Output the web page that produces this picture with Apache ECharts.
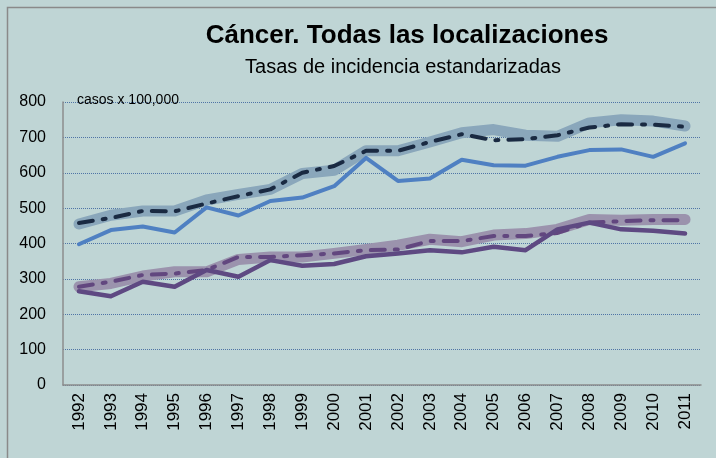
<!DOCTYPE html>
<html>
<head>
<meta charset="utf-8">
<script src="https://cdn.jsdelivr.net/npm/echarts@6/dist/echarts.min.js"></script>
<style>
  html, body { margin: 0; padding: 0; background: #bfd5d5; }
  #chart { width: 716px; height: 458px; }
</style>
</head>
<body>
<div id="chart"></div>
<script>
var years = ["1992", "1993", "1994", "1995", "1996", "1997", "1998", "1999", "2000", "2001",
  "2002", "2003", "2004", "2005", "2006", "2007", "2008", "2009", "2010", "2011"];

// upper group
var upperBand = [455, 480, 492, 492, 523, 539, 553, 598, 607, 662, 662, 687, 713, 722, 706, 703, 741, 750, 746, 732];
var upperDash = [458, 472, 492, 491, 513, 534, 553, 600, 619, 662, 662, 687, 709, 692, 695, 706, 728, 737, 736, 730];
var upperSolid = [398, 438, 448, 431, 502, 479, 520, 530, 562, 642, 577, 584, 637, 621, 620, 645, 664, 666, 645, 683];

// lower group
var lowerBand = [278, 287, 308, 320, 320, 355, 362, 362, 372, 383, 395, 412, 405, 424, 428, 440, 468, 466, 468, 468];
var lowerDash = [278, 292, 311, 315, 325, 362, 362, 367, 372, 381, 383, 407, 407, 421, 421, 430, 459, 463, 466, 466];
var lowerSolid = [265, 251, 292, 278, 325, 306, 353, 337, 342, 364, 372, 381, 375, 391, 381, 440, 459, 440, 436, 428];

var yTicks = [0, 100, 200, 300, 400, 500, 600, 700, 800];

var chart = echarts.init(document.getElementById("chart"), null, { renderer: "canvas" });

function line(data, color, width, type, z) {
  return {
    type: "line",
    data: data,
    symbol: "none",
    z: z,
    animation: false,
    lineStyle: { color: color, width: width, type: type, cap: "round", join: "round" },
  };
}

chart.setOption({
  backgroundColor: "#bfd5d5",
  animation: false,
  title: [
    {
      text: "Cáncer. Todas las localizaciones",
      left: 402,
      top: 18,
      textAlign: "center",
      textStyle: { fontFamily: "Liberation Sans, Arial", fontWeight: "bold", fontSize: 26, color: "#000" },
    },
    {
      text: "Tasas de incidencia estandarizadas",
      left: 398,
      top: 52,
      textAlign: "center",
      textStyle: { fontFamily: "Liberation Sans, Arial", fontWeight: "normal", fontSize: 20, color: "#000" },
    },
    {
      text: "casos x 100,000",
      left: 72,
      top: 88,
      textStyle: { fontFamily: "Liberation Sans, Arial", fontWeight: "normal", fontSize: 14, color: "#000" },
    },
  ],
  graphic: [
    {
      type: "rect",
      shape: { x: 7.5, y: 7.5, width: 760, height: 500 },
      style: { fill: null, stroke: "#8a8a8a", lineWidth: 1.5 },
      silent: true,
    },
  ],
  grid: { left: 63, right: 15, top: 102, bottom: 73 },
  xAxis: {
    type: "category",
    data: years,
    boundaryGap: true,
    axisLine: { lineStyle: { color: "#8c8c8c", width: 1.5 } },
    axisTick: { show: false },
    axisLabel: {
      rotate: 90,
      interval: 0,
      margin: 8,
      color: "#000",
      fontSize: 17,
      fontFamily: "Liberation Sans, Arial",
    },
  },
  yAxis: {
    type: "value",
    min: yTicks[0],
    max: yTicks[yTicks.length - 1],
    interval: 100,
    axisLine: { show: true, lineStyle: { color: "#8c8c8c", width: 1.5 } },
    axisTick: { show: false },
    axisLabel: { color: "#000", fontSize: 16, margin: 17, fontFamily: "Liberation Sans, Arial" },
    splitLine: { lineStyle: { color: "#4f74a6", type: [1, 1], width: 1 } },
  },
  series: [
    line(upperBand, "#8aa7bb", 11, "solid", 2),
    line(upperDash, "#1a2a42", 4, [14, 10, 3, 10], 3),
    line(upperSolid, "#4f80c2", 4, "solid", 4),
    line(lowerBand, "#9b93ad", 11, "solid", 2),
    line(lowerDash, "#62477f", 4, [14, 10, 3, 10], 3),
    line(lowerSolid, "#5e4982", 4.5, "solid", 4),
  ],
});
</script>
</body>
</html>
